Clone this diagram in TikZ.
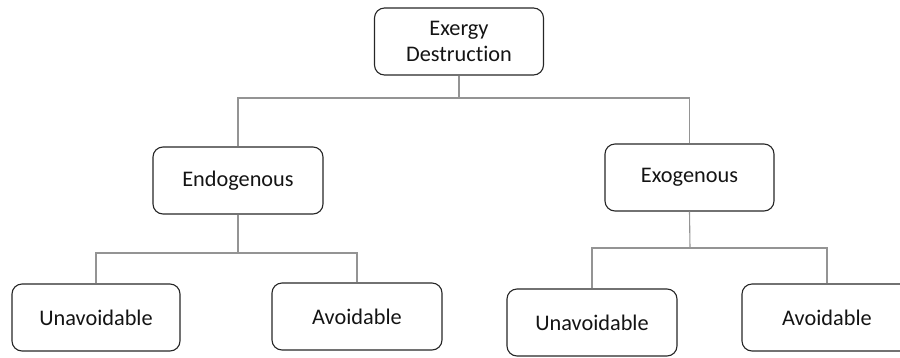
\documentclass[tikz,border=0pt]{standalone}
\usepackage{fontspec}
\setmainfont{Carlito}[Ligatures=NoCommon]
\begin{document}
\begin{tikzpicture}[x=1pt,y=-1pt,
  box/.style={draw=black!85, line width=1.1pt, rounded corners=10pt,
    minimum width=169pt, minimum height=67pt, inner sep=0pt,
    align=center, font=\fontsize{22.3}{26}\selectfont, text=black!92},
  conn/.style={draw=black!42, line width=1.1pt}]
\useasboundingbox (0,0) rectangle (900,357);
\clip (0,0) rectangle (900,357);
\node[box] (top) at (459,41.5) {Exergy\\Destruction};
\node[box, minimum width=170pt] (endo) at (238,180.5) {Endogenous};
\node[box] (exo) at (689.5,177.5) {Exogenous};
\node[box, minimum width=168pt] (u1) at (96,317.5) {Unavoidable};
\node[box, minimum width=170pt] (a1) at (357,316.5) {Avoidable};
\node[box, minimum width=170pt] (u2) at (592,322.5) {Unavoidable};
\node[box, minimum width=170pt] (a2) at (827,317.5) {Avoidable};
\coordinate (j0) at (459,98);
\coordinate (j1) at (238,253);
\coordinate (j2) at (690,248);
\draw[conn] (top.south) -- (j0);
\draw[conn] (j0) -| (endo.north);
\draw[conn] (j0) -| (exo.north);
\draw[conn] (endo.south) -- (j1);
\draw[conn] (j1) -| (u1.north);
\draw[conn] (j1) -| (a1.north);
\draw[conn] (exo.south) -- (j2);
\draw[conn] (j2) -| (u2.north);
\draw[conn] (j2) -| (a2.north);
\end{tikzpicture}
\end{document}
